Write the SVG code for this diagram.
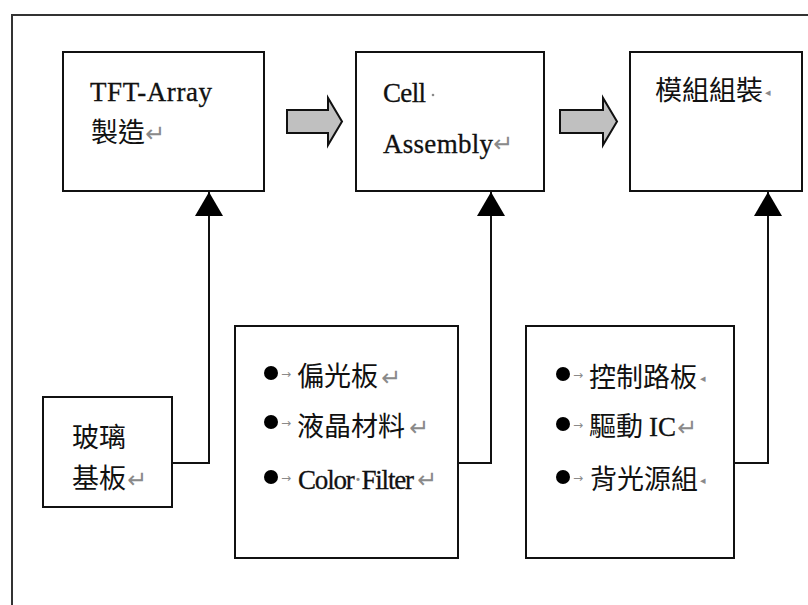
<svg xmlns="http://www.w3.org/2000/svg" width="808" height="605" viewBox="0 0 808 605">
<style>
.box{fill:#fff;stroke:#111;stroke-width:2}
.t{font-family:"Liberation Serif","Noto Sans CJK TC",serif;font-size:27px;fill:#111;stroke:#111;stroke-width:0.3}
.c{font-family:"Noto Sans CJK TC","Liberation Serif",sans-serif;font-size:27px;fill:#111}
.m{font-family:"DejaVu Sans",sans-serif;fill:#8a8a8a}
.r{font-family:"DejaVu Sans",sans-serif;fill:#8a8a8a;font-size:24px}
.con{fill:none;stroke:#111;stroke-width:2}
.blk{fill:#c0c0c0;stroke:#111;stroke-width:2}
.dot{fill:#000}
</style>
<defs>
<marker id="ah" viewBox="0 0 24 28" refX="24" refY="14" markerWidth="24" markerHeight="28" markerUnits="userSpaceOnUse" orient="auto">
<path d="M0,0 L24,14 L0,28 z" fill="#000"/>
</marker>
</defs>
<rect width="808" height="605" fill="#fff"/>
<path d="M12,605 V15 H808" fill="none" stroke="#333" stroke-width="2"/>

<g id="connectors">
<path class="con" d="M172,463 H209 V192" marker-end="url(#ah)"/>
<path class="con" d="M458,463 H491 V192" marker-end="url(#ah)"/>
<path class="con" d="M734,463 H768 V192" marker-end="url(#ah)"/>
<polygon class="blk" points="287,110 328,110 328,98 342,121.5 328,145 328,133 287,133"/>
<polygon class="blk" points="560,110 603,110 603,98 617,121.5 603,145 603,133 560,133"/>
</g>

<g id="tft">
<rect class="box" x="63" y="52" width="201" height="139"/>
<text class="t" x="90" y="101" textLength="122" lengthAdjust="spacing">TFT-Array</text>
<text class="c" x="91" y="142">製造</text>
<text class="r" x="145" y="142">↵</text>
</g>

<g id="cell">
<rect class="box" x="356" y="52" width="188" height="139"/>
<text class="t" x="383" y="102" textLength="43" lengthAdjust="spacing">Cell</text>
<circle cx="433" cy="95" r="1.3" fill="#8a8a8a"/>
<text class="t" x="383" y="153" textLength="110" lengthAdjust="spacing">Assembly</text>
<text class="r" x="493" y="152">↵</text>
</g>

<g id="module">
<rect class="box" x="630" y="52" width="172" height="139"/>
<text class="c" x="655" y="100">模組組裝</text>
<text class="m" x="765" y="96" font-size="11">◂</text>
</g>

<g id="glass">
<rect class="box" x="43" y="397" width="129" height="110"/>
<text class="c" x="72" y="447">玻璃</text>
<text class="c" x="72" y="488">基板</text>
<text class="r" x="127" y="488">↵</text>
</g>

<g id="materials">
<rect class="box" x="235" y="326" width="223" height="232"/>
<circle class="dot" cx="271" cy="373" r="7"/>
<text class="m" x="281" y="378" font-size="12">→</text>
<text class="c" x="297" y="386">偏光板</text>
<text class="r" x="381" y="386">↵</text>
<circle class="dot" cx="271" cy="422" r="7"/>
<text class="m" x="281" y="427" font-size="12">→</text>
<text class="c" x="297" y="436">液晶材料</text>
<text class="r" x="409" y="436">↵</text>
<circle class="dot" cx="271" cy="477" r="7"/>
<text class="m" x="281" y="482" font-size="12">→</text>
<text class="t" x="298" y="489" textLength="116" lengthAdjust="spacing">Color<tspan fill="#8a8a8a" stroke="none">·</tspan>Filter</text>
<text class="r" x="417" y="488">↵</text>
</g>

<g id="parts">
<rect class="box" x="526" y="326" width="208" height="232"/>
<circle class="dot" cx="563" cy="374" r="7"/>
<text class="m" x="573" y="379" font-size="12">→</text>
<text class="c" x="589" y="387">控制路板</text>
<text class="m" x="700" y="382" font-size="11">◂</text>
<circle class="dot" cx="563" cy="424" r="7"/>
<text class="m" x="573" y="429" font-size="12">→</text>
<text class="c" x="589" y="436">驅動<tspan font-family="Liberation Serif" font-size="27" dx="6" stroke="#111" stroke-width="0.3">IC</tspan></text>
<text class="r" x="677" y="436">↵</text>
<circle class="dot" cx="563" cy="477" r="7"/>
<text class="m" x="573" y="482" font-size="12">→</text>
<text class="c" x="590" y="489">背光源組</text>
<text class="m" x="700" y="484" font-size="11">◂</text>
</g>
</svg>
